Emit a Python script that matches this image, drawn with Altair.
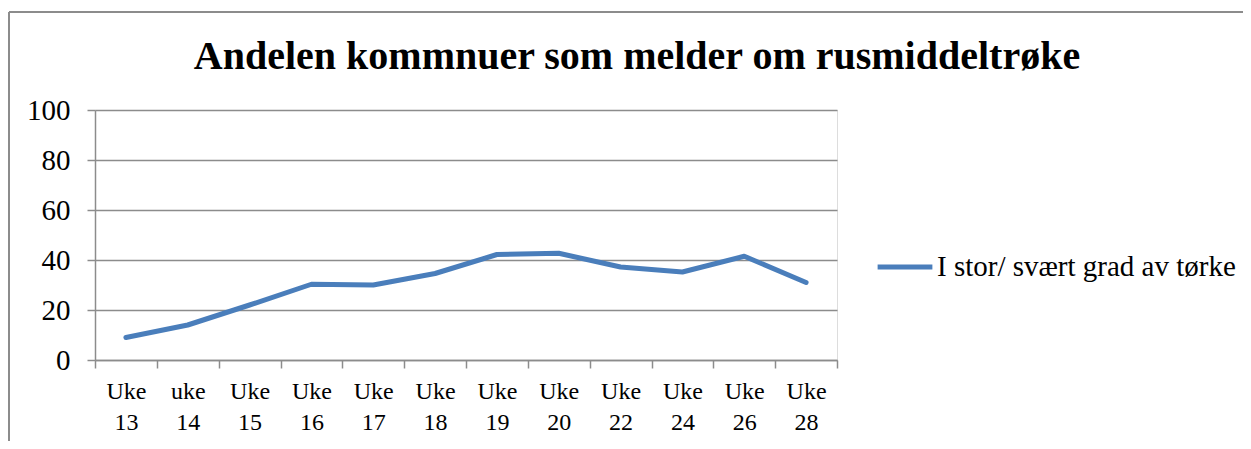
import altair as alt
import pandas as pd

weeks = ["Uke 13", "uke 14", "Uke 15", "Uke 16", "Uke 17", "Uke 18",
         "Uke 19", "Uke 20", "Uke 22", "Uke 24", "Uke 26", "Uke 28"]
values = [9.0, 14.0, 22.0, 30.3, 30.0, 34.6, 42.2, 42.7, 37.2, 35.2, 41.5, 31.0]
series_name = "I stor/ svært grad av tørke"
title_text = "Andelen kommnuer som melder om rusmiddeltrøke"
y_ticks = [0, 20, 40, 60, 80, 100]

df = pd.DataFrame({"uke": weeks, "andel": values, "serie": [series_name] * len(weeks)})

W, H = 742, 250
PL, PT, PR, PB = 87, 102, 406, 81
FONT = "Liberation Serif"
GRAY = "#8c8c8c"

line = alt.Chart(df).mark_line(strokeWidth=5, strokeCap="round", strokeJoin="round").encode(
    x=alt.X("uke:N", sort=weeks, bandPosition=0.5,
            scale=alt.Scale(type="band", paddingInner=0, paddingOuter=0),
            axis=alt.Axis(title=None, labelAngle=0, tickBand="extent", grid=False,
                          tickSize=8, tickColor=GRAY, tickWidth=1.5,
                          domainColor=GRAY, domainWidth=1.5,
                          labelFont=FONT, labelFontSize=24, labelColor="#000",
                          labelPadding=11, labelLineHeight=31,
                          labelExpr="split(datum.label, ' ')")),
    y=alt.Y("andel:Q", scale=alt.Scale(domain=[0, 100], nice=False),
            axis=alt.Axis(title=None, values=y_ticks, grid=True, gridColor=GRAY,
                          gridWidth=1.5, tickSize=8, tickColor=GRAY, tickWidth=1.5,
                          domainColor=GRAY, domainWidth=1.5,
                          labelFont=FONT, labelFontSize=29, labelColor="#000",
                          labelPadding=17)),
    color=alt.Color("serie:N", scale=alt.Scale(range=["#4a7ebb"]),
                    legend=alt.Legend(title=None, orient="none", legendX=780, legendY=127,
                                      symbolType="stroke", symbolSize=3000,
                                      symbolStrokeWidth=5, labelFont=FONT,
                                      labelFontSize=29, labelColor="#000",
                                      labelOffset=2, labelLimit=0)),
)

frame_df = pd.DataFrame({"t": [title_text]})
frame_left = alt.Chart(frame_df).mark_rule(color=GRAY, strokeWidth=2).encode(
    x=alt.value(-86), y=alt.value(-98), y2=alt.value(H + PB + 10))
frame_top = alt.Chart(frame_df).mark_rule(color=GRAY, strokeWidth=2).encode(
    x=alt.value(-86), x2=alt.value(W + PR + 10), y=alt.value(-98))
title = alt.Chart(frame_df).mark_text(
    font=FONT, fontSize=40, fontWeight="bold", color="#000",
    align="center", baseline="alphabetic").encode(
    text="t:N", x=alt.value(542), y=alt.value(-41))

chart = alt.layer(frame_left, frame_top, title, line).properties(
    width=W, height=H,
    autosize=alt.AutoSizeParams(type="none"),
    padding={"left": PL, "top": PT, "right": PR, "bottom": PB},
).configure_view(stroke=None).configure(background="white")

chart.save("out.html", embed_options={"renderer": "svg", "actions": False})
